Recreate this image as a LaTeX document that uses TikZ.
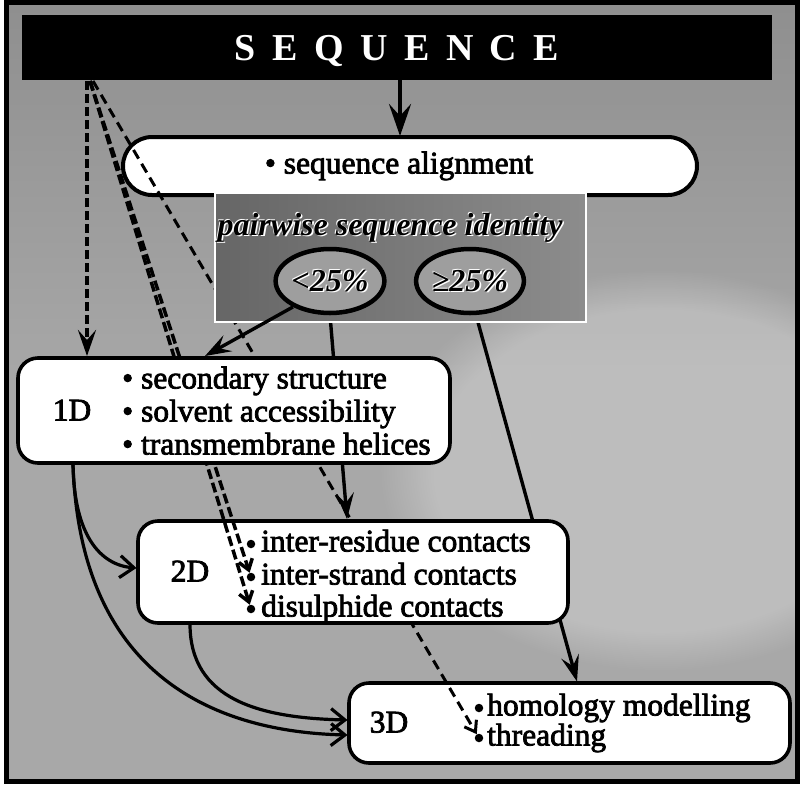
\documentclass[tikz,border=0pt]{standalone}
\usepackage{fontspec}
\setmainfont{Liberation Serif}
\newfontfamily\heavyserif{Liberation Serif}[FakeBold=2.5]
\usetikzlibrary{arrows.meta,fadings,shapes.geometric}
\pgfdeclarelayer{bg}
\pgfdeclarelayer{lone}
\pgfdeclarelayer{ltwo}
\pgfdeclarelayer{lthree}
\pgfdeclarelayer{lfive}
\pgfsetlayers{bg,lone,ltwo,lthree,main,lfive}

\definecolor{bgA}{gray}{0.56}
\definecolor{bgB}{gray}{0.66}
\definecolor{bgC}{gray}{0.66}
\definecolor{pwA}{gray}{0.40}
\definecolor{pwB}{gray}{0.55}
\definecolor{ellfill}{gray}{0.62}

\newcommand{\txthalo}[1]{\leavevmode
 \rlap{\hspace{1.6pt}\raisebox{-1.6pt}{\textcolor{white}{#1}}}%
 \rlap{\hspace{-0.8pt}\raisebox{0.8pt}{\textcolor{white}{#1}}}%
 #1}

\tikzset{
  box/.style={draw=black, line width=3.6pt, fill=white, rounded corners=20pt, inner sep=0pt},
  boxtext/.style={font=\heavyserif\fontsize{31.5}{33}\selectfont, inner sep=0pt, text height=22pt, text depth=7pt},
  pwfont/.style={font=\fontsize{32}{34}\selectfont\bfseries\itshape, inner sep=0pt},
  ell/.style={ellipse, draw=black, line width=4.5pt, fill=ellfill, inner sep=0pt, minimum height=64pt, pwfont},
  bul/.style={circle, fill=black, inner sep=0pt, minimum size=8.5pt},
  stl/.tip={Stealth[length=26pt,width=18pt,inset=10pt]},
  barb/.tip={Straight Barb[length=14pt,width=22pt]},
  smallbarb/.tip={Straight Barb[length=10pt,width=14pt]},
  solidarrow/.style={line width=3.4pt, -stl},
  curvearrow/.style={line width=3.2pt, -barb},
  vdash/.style={line width=3.8pt, dash pattern=on 9pt off 4pt, -stl},
  dbldash/.style={line width=3.5pt, dash pattern=on 10pt off 4pt, -smallbarb},
  thindash/.style={line width=3pt, dash pattern=on 10pt off 6pt, -smallbarb},
}

\begin{document}
\begin{tikzpicture}[x=1pt,y=-1pt]
\useasboundingbox (0,0) rectangle (804,788);

% ---------- background ----------
\begin{pgfonlayer}{bg}
  \fill[top color=bgA, bottom color=bgC, middle color=bgB] (6,2) rectangle (797,782);
  \fill[white, opacity=0.25, path fading=circle with fuzzy edge 20 percent] (660,470) ellipse (280 and 200);
  \node[fill=black, minimum width=750pt, minimum height=65pt, inner sep=0pt, text=white,
        text height=26pt, text depth=0pt,
        font=\fontsize{38}{40}\selectfont\bfseries] (seq) at (397,47.5)
        {S\hspace{16.5pt}E\hspace{16.5pt}Q\hspace{16.5pt}U\hspace{16.5pt}E\hspace{16.5pt}N\hspace{16.5pt}C\hspace{16.5pt}E};
\end{pgfonlayer}

% ---------- sequence alignment box and 3D box ----------
\begin{pgfonlayer}{lone}
  \node[box, rounded corners=29pt, line width=4pt, minimum width=574pt, minimum height=58pt] (align) at (410,166) {};
  \node[boxtext] (alignt) at (399,166) {• sequence alignment};
  \node[box, minimum width=441pt, minimum height=80pt] (threeD) at (569.5,723) {};
  \node[boxtext] (threeDl) at (389,725) {3D};
  \node[bul] (hb) at (479,708) {};
  \node[bul] (tb) at (479,738) {};
  \node[boxtext, anchor=west] (hbt) at (487,708) {homology modelling};
  \node[boxtext, anchor=west] (tbt) at (487,738) {threading};
\end{pgfonlayer}

% ---------- pairwise identity panel and 2D box ----------
\begin{pgfonlayer}{lthree}
  \node[minimum width=371pt, minimum height=129pt, inner sep=0pt, left color=pwA, right color=pwB,
        draw=white, line width=1.2pt] (pw) at (400.5,257.5) {};
  \node[pwfont] (pwt) at (390,228) {\txthalo{pairwise sequence identity}};
  \node[box, minimum width=430pt, minimum height=102pt] (twoD) at (353,572) {};
  \node[boxtext] (twoDl) at (190,574) {2D};
  \node[bul] (b2a) at (251,544) {};
  \node[bul] (b2b) at (251,577) {};
  \node[bul] (b2c) at (251,609) {};
  \node[boxtext, anchor=west] (t2a) at (261,544) {inter-residue contacts};
  \node[boxtext, anchor=west] (t2b) at (261,577) {inter-strand contacts};
  \node[boxtext, anchor=west] (t2c) at (261,609) {disulphide contacts};
\end{pgfonlayer}

% ---------- 1D box ----------
\begin{pgfonlayer}{lfive}
  \node[box, minimum width=432pt, minimum height=105pt] (oneD) at (234,410.5) {};
  \node[boxtext] (oneDl) at (72,413) {1D};
  \node[boxtext, anchor=west] (oneDa) at (122,381) {• secondary structure};
  \node[boxtext, anchor=west] (oneDb) at (122,414) {• solvent accessibility};
  \node[boxtext, anchor=west] (oneDc) at (122,447) {• transmembrane helices};
  \draw[line width=5pt] (6,2.5) rectangle (797,781.5);
\end{pgfonlayer}

% ---------- ellipses ----------
\node[ell, minimum width=100pt] (lt) at (330,281) {\txthalo{<25\%}};
\node[ell, minimum width=104pt] (ge) at (470,281) {\txthalo{≥25\%}};

% ---------- connector end points ----------
\coordinate (hA) at (87,81);
\coordinate (hB) at (90,81);
\coordinate (hC) at (93,81);
\coordinate (seqbot) at (400,80);
\coordinate (aligntop) at (400,136);
\coordinate (oneDtopA) at (87,356);
\coordinate (oneDtopB) at (205,356);
\coordinate (twoDtop) at (347,519);
\coordinate (threeDtop) at (577,681.5);
\coordinate (oneDbot) at (73,464);
\coordinate (twoDleft) at (136.5,568);
\coordinate (twoDbot) at (190,624);
\coordinate (threeDleftA) at (347.5,720);
\coordinate (threeDleftB) at (347.5,735);

% ---------- connectors hidden behind boxes ----------
\begin{pgfonlayer}{ltwo}
  \draw[thindash] (hC) -- (tb);
  \draw[solidarrow] (lt.south) -- (twoDtop);
  \draw[solidarrow] (ge.280) -- (threeDtop);
\end{pgfonlayer}

% ---------- visible connectors ----------
\draw[line width=4.5pt, -{Stealth[length=32pt,width=22pt,inset=12pt]}] (seqbot) -- (aligntop);
\draw[solidarrow] (lt.215) -- (oneDtopB);
\draw[vdash] (hA) -- (oneDtopA);
\draw[dbldash] (hB) -- (b2b);
\draw[dbldash] (hB) -- (b2c);
\draw[curvearrow] (oneDbot) .. controls (74,535) and (100,565) .. (twoDleft);
\draw[curvearrow] (oneDbot) .. controls (80,680) and (220,732) .. (threeDleftB);
\draw[curvearrow] (twoDbot) .. controls (190,700) and (260,718) .. (threeDleftA);
\end{tikzpicture}
\end{document}
